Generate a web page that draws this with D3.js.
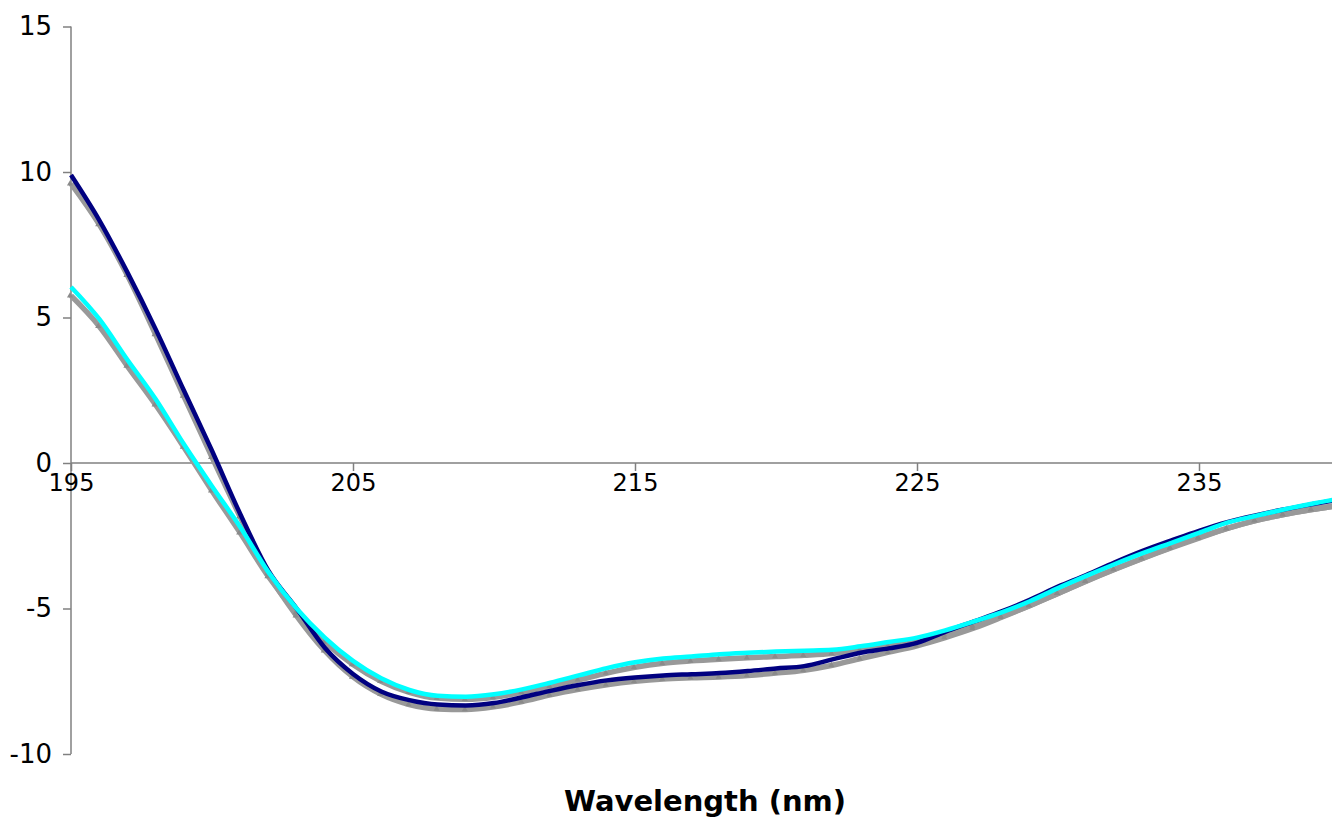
<!DOCTYPE html>
<html>
<head>
<meta charset="utf-8">
<script src="https://cdn.jsdelivr.net/npm/d3@7"></script>
<style>
  html, body { margin: 0; padding: 0; background: #ffffff; }
  svg { display: block; }
  text { font-family: "DejaVu Sans", Verdana, sans-serif; fill: #000; }
</style>
</head>
<body>
<svg id="chart" width="1332" height="821"></svg>
<script>
// Wavelength grid (nm), one point per nanometre
const wavelengths = d3.range(195, 241);

// Measured spectra
const measuredNavy = [
  9.9, 8.35, 6.55, 4.6, 2.5, 0.42, -1.75, -3.7, -5.0, -6.35,
  -7.25, -7.85, -8.15, -8.3, -8.33, -8.25, -8.05, -7.83, -7.63, -7.47,
  -7.37, -7.3, -7.26, -7.22, -7.15, -7.06, -6.98, -6.75, -6.52, -6.37,
  -6.18, -5.8, -5.45, -5.1, -4.7, -4.25, -3.85, -3.42, -3.02, -2.67,
  -2.33, -2.03, -1.8, -1.6, -1.42, -1.25
];
const measuredCyan = [
  6.05, 4.95, 3.55, 2.2, 0.65, -0.8, -2.2, -3.75, -5.0, -6.0,
  -6.8, -7.4, -7.8, -8.0, -8.03, -7.95, -7.78, -7.55, -7.3, -7.05,
  -6.85, -6.72, -6.65, -6.57, -6.52, -6.48, -6.45, -6.42, -6.3, -6.15,
  -6.0, -5.75, -5.45, -5.13, -4.75, -4.3, -3.88, -3.48, -3.1, -2.75,
  -2.4, -2.05, -1.82, -1.6, -1.4, -1.22
];

// Reconstructed spectra (grey, with markers)
const fitNavy = [
  9.6, 8.2, 6.45, 4.42, 2.3, 0.2, -1.85, -3.8, -5.25, -6.45,
  -7.35, -7.95, -8.3, -8.45, -8.47, -8.38, -8.2, -7.97, -7.78, -7.62,
  -7.5, -7.42, -7.38, -7.35, -7.3, -7.22, -7.12, -6.95, -6.72, -6.5,
  -6.28, -6.0, -5.68, -5.3, -4.9, -4.48, -4.05, -3.65, -3.27, -2.9,
  -2.56, -2.25, -1.98, -1.77, -1.6, -1.45
];
const fitCyan = [
  5.75, 4.7, 3.33, 2.0, 0.55, -0.95, -2.4, -3.9, -5.15, -6.15,
  -6.92, -7.5, -7.88, -8.08, -8.12, -8.05, -7.88, -7.67, -7.45, -7.22,
  -7.02, -6.88, -6.8, -6.74, -6.69, -6.65, -6.61, -6.55, -6.42, -6.27,
  -6.12, -5.9, -5.6, -5.27, -4.9, -4.48, -4.06, -3.66, -3.28, -2.92,
  -2.58, -2.25, -1.98, -1.77, -1.6, -1.45
];

// Axis ticks
const xTicks = [195, 205, 215, 225, 235];
const yTicks = [-10, -5, 0, 5, 10, 15];
const xTitle = "Wavelength (nm)";

const svg = d3.select("#chart");

const x = d3.scaleLinear().domain([195, 235]).range([71, 1199]);
const y = d3.scaleLinear().domain([-10, 15]).range([754, 26.5]);

const axisColor = "#808080";
const plainNumber = d => String(d);

// Y axis on the left edge of the plot
const yAxis = svg.append("g")
  .attr("transform", `translate(${x(195)},0)`)
  .call(d3.axisLeft(y).tickValues(yTicks).tickSize(8).tickPadding(12).tickFormat(plainNumber));
yAxis.select(".domain").attr("stroke", axisColor).attr("stroke-width", 1.5)
  .attr("d", `M0,${y(15)}V${y(-10)}`);
yAxis.selectAll(".tick line").attr("stroke", axisColor).attr("stroke-width", 1.5);
yAxis.selectAll(".tick text")
  .attr("x", -19)
  .style("font-size", "26px")
  .style("font-family", "'DejaVu Sans', Verdana, sans-serif")
  .attr("fill", "#000");

// X axis along zero
const xAxis = svg.append("g")
  .attr("transform", `translate(0,${y(0)})`)
  .call(d3.axisBottom(x).tickValues(xTicks).tickSize(8).tickPadding(0).tickFormat(plainNumber));
xAxis.select(".domain").attr("stroke", axisColor).attr("stroke-width", 1.5)
  .attr("d", `M${x(195)},0H1340`);
xAxis.selectAll(".tick line").attr("stroke", axisColor).attr("stroke-width", 1.5);
xAxis.selectAll(".tick text")
  .attr("y", 28)
  .attr("dy", null)
  .style("font-size", "24px")
  .style("font-family", "'DejaVu Sans', Verdana, sans-serif")
  .attr("fill", "#000");

// Curves
const line = d3.line()
  .x(d => x(d[0]))
  .y(d => y(d[1]))
  .curve(d3.curveMonotoneX);

const pairs = vals => wavelengths.map((w, i) => [w, vals[i]]);

const plot = svg.append("g");

const grey = "#999999";
[fitNavy, fitCyan].forEach(vals => {
  plot.append("path")
    .datum(pairs(vals))
    .attr("fill", "none")
    .attr("stroke", grey)
    .attr("stroke-width", 5.5)
    .attr("stroke-linejoin", "round")
    .attr("d", line);
});

// Triangle markers on the reconstructed spectra
const tri = d3.symbol().type(d3.symbolTriangle).size(16);
[fitNavy, fitCyan].forEach(vals => {
  plot.append("g").selectAll("path")
    .data(pairs(vals))
    .join("path")
    .attr("transform", d => `translate(${x(d[0]) - 1},${y(d[1])})`)
    .attr("d", tri)
    .attr("fill", "#8a8a8a");
});

plot.append("path")
  .datum(pairs(measuredNavy))
  .attr("fill", "none")
  .attr("stroke", "#000080")
  .attr("stroke-width", 4.5)
  .attr("stroke-linejoin", "round")
  .attr("d", line);

plot.append("path")
  .datum(pairs(measuredCyan))
  .attr("fill", "none")
  .attr("stroke", "#00ffff")
  .attr("stroke-width", 4.5)
  .attr("stroke-linejoin", "round")
  .attr("d", line);

// Axis title
svg.append("text")
  .attr("x", 705)
  .attr("y", 811)
  .attr("text-anchor", "middle")
  .style("font-size", "29px")
  .style("font-weight", "bold")
  .text(xTitle);
</script>
</body>
</html>
